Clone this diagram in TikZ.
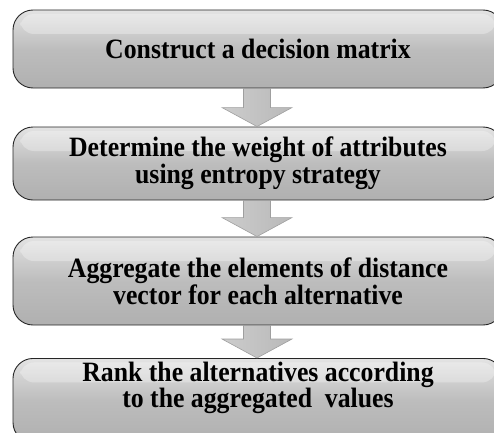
\documentclass[tikz,border=0pt]{standalone}
\usepackage{fontspec}
\setmainfont{Liberation Serif}[FakeStretch=0.92]
\usetikzlibrary{positioning,calc}

\begin{document}
\begin{tikzpicture}[x=1pt,y=1pt,
    stagetext/.style={align=center, inner sep=0pt,
        font=\bfseries\fontsize{28}{24}\selectfont},
    stage/.style={stagetext, draw=black!85, line width=0.9pt, rounded corners=20pt,
        minimum width=490pt,
        top color=gray!22, bottom color=gray!62, middle color=gray!52,
        path picture={\fill[white, opacity=.3, rounded corners=14pt]
            ($(path picture bounding box.north west)+(7,-4)$) rectangle
            ($(path picture bounding box.north east)+(-7,-24)$);}},
    flow/.style={draw=gray!75, line width=0.6pt,
        left color=gray!40, middle color=white, right color=gray!55}]
    \useasboundingbox (0,0) rectangle (494,432);
    \node[stage, minimum height=78pt] (c1) at (258,383) {Construct a decision matrix};
    \node[stage, minimum height=73pt] (c2) at (258,268.5) {Determine the weight of attributes\\using entropy strategy};
    \node[stage, minimum height=88pt] (c3) at (258,151) {Aggregate the elements of distance\\vector for each alternative};
    \node[stage, minimum height=84pt, anchor=north] (c4) at (258,74) {};
    \node[stagetext] (c4t) at ($(c4.north)+(0,-30)$) {Rank the alternatives according\\to the aggregated\ \ values};
    % block arrows between the stages
    \foreach \a/\b in {c1/c2,c2/c3,c3/c4}
        \draw[flow] ($(\a.south)+(-14.5,0)$) -- ($(\b.north)+(-14.5,19)$)
            -- ($(\b.north)+(-36,19)$) -- ($(\b.north)+(-1,0)$)
            -- ($(\b.north)+(34,19)$) -- ($(\b.north)+(12.5,19)$)
            -- ($(\a.south)+(12.5,0)$) -- cycle;
\end{tikzpicture}
\end{document}
